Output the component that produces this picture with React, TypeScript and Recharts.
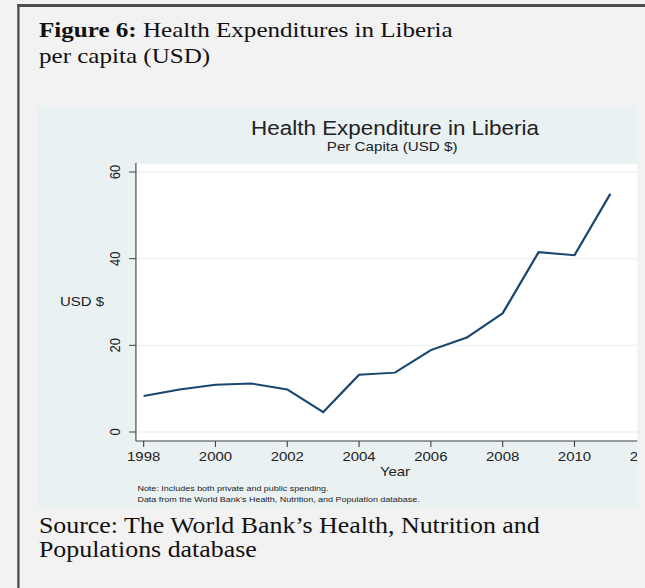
import React from "react";
import {
  LineChart,
  Line,
  XAxis,
  YAxis,
  CartesianGrid,
} from "recharts";

// values
const years = [1998, 1999, 2000, 2001, 2002, 2003, 2004, 2005, 2006, 2007, 2008, 2009, 2010, 2011];
const perCapitaUsd = [8.3, 9.8, 10.9, 11.2, 9.8, 4.6, 13.2, 13.7, 18.9, 21.8, 27.4, 41.5, 40.8, 55.0];
const yearTicks = [1998, 2000, 2002, 2004, 2006, 2008, 2010, 2012];
const usdTicks = [0, 20, 40, 60];

const data = years.map((year, i) => ({ year, usd: perCapitaUsd[i] }));

// the pasted figure is stretched sideways in the document
const STRETCH = 1.15;
const SANS = "'Liberation Sans', Arial, Helvetica, sans-serif";
const SERIF = "'Liberation Serif', 'Times New Roman', serif";

const PANEL_W = 521;
const PANEL_H = 402;

const XTick = ({ x, y, payload }: any) => (
  <text x={x} y={y} dy={11.6} textAnchor="middle" fontSize={13} fill="#222" fontFamily={SANS}>
    {payload.value}
  </text>
);

const YTick = ({ x, y, payload }: any) => {
  const bx = x - 5.5;
  return (
    <text
      x={bx}
      y={y}
      transform={`rotate(-90, ${bx}, ${y})`}
      textAnchor="middle"
      fontSize={13}
      fill="#222"
      fontFamily={SANS}
    >
      {payload.value}
    </text>
  );
};

export default function App() {
  return (
    <div
      style={{
        position: "absolute",
        left: 0,
        top: 0,
        width: 645 / STRETCH,
        height: 588,
        overflow: "hidden",
        background: "#f2f2f2",
        transform: `scaleX(${STRETCH})`,
        transformOrigin: "0 0",
      }}
    >
      {/* page frame */}
      <div style={{ position: "absolute", left: 14.8, top: 4, width: 2.6, height: 584, background: "#4d4d4d" }} />
      <div style={{ position: "absolute", left: 14.8, top: 4, width: 546, height: 2.5, background: "#4d4d4d" }} />

      <div
        style={{
          position: "absolute",
          left: 33.9,
          top: 17,
          fontFamily: SERIF,
          fontSize: 21.8,
          lineHeight: "26px",
          color: "#111",
          whiteSpace: "nowrap",
        }}
      >
        <b>Figure 6:</b> Health Expenditures in Liberia
        <br />
        per capita (USD)
      </div>

      <div
        style={{
          position: "absolute",
          left: 33,
          top: 106,
          width: PANEL_W,
          height: PANEL_H,
          background: "#eaf1f3",
          overflow: "hidden",
        }}
      >
        <LineChart
          width={545}
          height={PANEL_H}
          data={data}
          margin={{ top: 57, right: 9.3, bottom: 37, left: 0 }}
        >
          <CartesianGrid vertical={false} stroke="#e6eef1" fill="#ffffff" fillOpacity={1} />
          <XAxis
            dataKey="year"
            type="number"
            domain={[1997.785, 2012.215]}
            ticks={yearTicks}
            interval={0}
            height={30}
            tickSize={6}
            stroke="#444"
            tick={<XTick />}
          />
          <YAxis
            type="number"
            domain={[-2.08, 62.08]}
            ticks={usdTicks}
            interval={0}
            width={85.2}
            tickSize={6}
            stroke="#444"
            tick={<YTick />}
          />
          <Line
            type="linear"
            dataKey="usd"
            stroke="#1a476f"
            strokeWidth={2}
            dot={false}
            activeDot={false}
            isAnimationActive={false}
          />
        </LineChart>

        <svg
          width={PANEL_W}
          height={PANEL_H}
          style={{ position: "absolute", left: 0, top: 0, pointerEvents: "none" }}
          fontFamily={SANS}
        >
          <text x={310.5} y={29.5} textAnchor="middle" fontSize={19.5} fill="#222">
            Health Expenditure in Liberia
          </text>
          <text x={308} y={45.5} textAnchor="middle" fontSize={13.2} fill="#222">
            Per Capita (USD $)
          </text>
          <text x={38.3} y={199.7} textAnchor="middle" fontSize={13} fill="#222">
            USD $
          </text>
          <text x={310.5} y={369.7} textAnchor="middle" fontSize={13} fill="#222">
            Year
          </text>
          <text x={86.5} y={384.8} fontSize={7.8} fill="#222">
            Note: Includes both private and public spending.
          </text>
          <text x={86.5} y={396.5} fontSize={7.8} fill="#222">
            Data from the World Bank's Health, Nutrition, and Population database.
          </text>
        </svg>
      </div>

      <div
        style={{
          position: "absolute",
          left: 33.9,
          top: 513.5,
          fontFamily: SERIF,
          fontSize: 22.5,
          lineHeight: "24.5px",
          color: "#111",
          whiteSpace: "nowrap",
        }}
      >
        Source: The World Bank’s Health, Nutrition and
        <br />
        Populations database
      </div>
    </div>
  );
}
